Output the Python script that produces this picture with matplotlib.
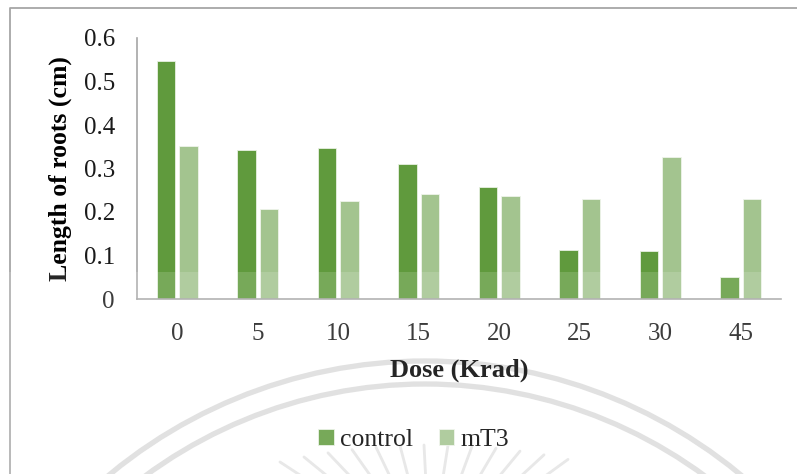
import numpy as np
import matplotlib.pyplot as plt
from matplotlib.patches import Arc, Rectangle

doses = ['0', '5', '10', '15', '20', '25', '30', '45']
control = [0.547, 0.343, 0.347, 0.310, 0.257, 0.113, 0.111, 0.050]
mt3 = [0.351, 0.206, 0.225, 0.241, 0.236, 0.231, 0.326, 0.231]

plt.rcParams['font.family'] = ['Liberation Serif', 'DejaVu Serif']

W, H = 797, 474
fig = plt.figure(figsize=(W / 100, H / 100), dpi=100)

# background layer in pixel units: frame and faint emblem lines
bg = fig.add_axes([0, 0, 1, 1], zorder=-1)
bg.set_xlim(0, W)
bg.set_ylim(H, 0)
bg.axis('off')
bg.plot([10, 10, W], [H, 8, 8], color='#a6a6a6', lw=1.3)
cx, cy = 425, 856
for r in (495, 472):
    bg.add_patch(Arc((cx, cy), 2 * r, 2 * r, theta1=180, theta2=360,
                     color='#dcdcdc', lw=3.8))
for xt in np.arange(280, 590, 24):
    yt = 445 + 17 * ((xt - 430) / 150) ** 2
    d = np.array([430 - xt, 560 - yt])
    d = d / np.hypot(*d)
    bg.plot([xt, xt + d[0] * 45], [yt, yt + d[1] * 45],
            color='#e4e4e4', lw=2.0, solid_capstyle='round')

ax = fig.add_axes([137 / W, 1 - 299 / H, 644 / W, 261 / H])
ax.patch.set_alpha(0)
x = np.arange(len(doses))
w = 0.225
ax.bar(x - 0.14, control, w, color='#609a3d', edgecolor='#e8f0e2', lw=0.6, label='control')
ax.bar(x + 0.14, mt3, w, color='#a3c48f', edgecolor='#eef4ea', lw=0.6, label='mT3')

ax.set_xlim(-0.5, len(doses) - 0.5)
ax.set_ylim(0, 0.6)
ax.set_yticks([0, 0.1, 0.2, 0.3, 0.4, 0.5, 0.6])
ax.set_yticklabels(['0', '0.1', '0.2', '0.3', '0.4', '0.5', '0.6'])
ax.set_xticks(x)
ax.set_xticklabels(doses)
ax.tick_params(length=0, labelsize=18, colors='#1a1a1a')
ax.tick_params(axis='x', pad=17)
ax.tick_params(axis='y', pad=16)
for s in ('top', 'right'):
    ax.spines[s].set_visible(False)
ax.spines['left'].set_color('#a6a6a6')
ax.spines['bottom'].set_color('#a6a6a6')
ax.spines['left'].set_linewidth(1.2)
ax.spines['bottom'].set_linewidth(1.2)

ax.set_ylabel('Length of roots (cm)', fontsize=18.5, fontweight='bold', labelpad=8)
ax.set_xlabel('Dose (Krad)', fontsize=19, fontweight='bold', labelpad=10)

fig.legend(loc='center', bbox_to_anchor=(414 / W, 1 - 440 / H), ncol=2,
           frameon=False, fontsize=18.5, handlelength=0.6, handleheight=0.6,
           handletextpad=0.25, columnspacing=1.0, borderpad=0)

# light haze over the lower part of the page
fig.add_artist(Rectangle((0, 0), 1, 1 - 272 / H, transform=fig.transFigure,
                         facecolor='white', alpha=0.15, lw=0, zorder=10))

fig.savefig('out.png', dpi=100)
